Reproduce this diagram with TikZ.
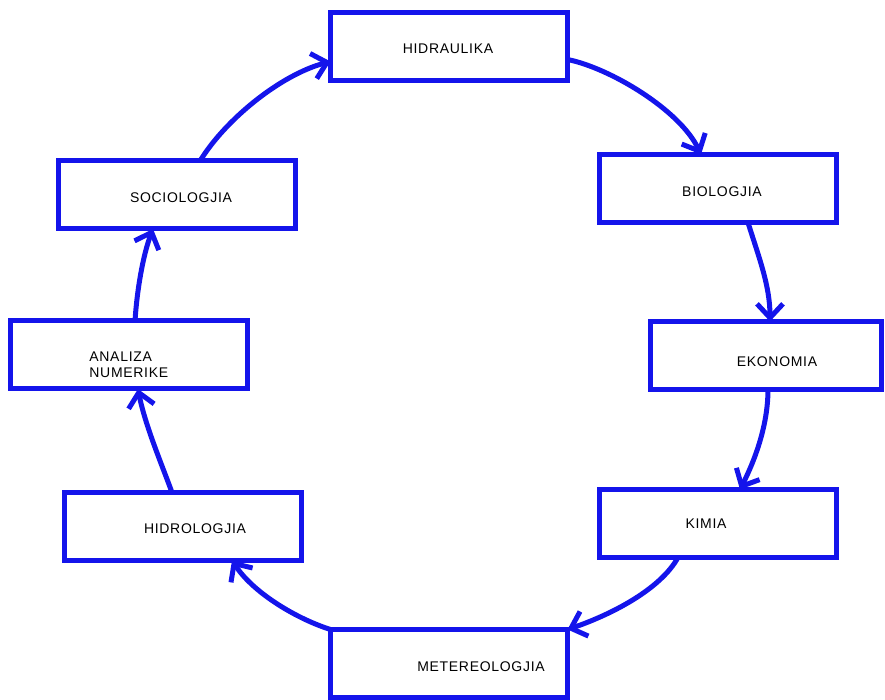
\documentclass[tikz,border=0pt]{standalone}
\usepackage{fontspec}
\newfontfamily\lblfont[LetterSpace=5]{Liberation Sans}
\usetikzlibrary{arrows.meta,calc}
\definecolor{cyclblue}{RGB}{20,20,235}
\tikzset{
  box/.style={draw=cyclblue, line width=2.5pt, fill=white, inner sep=0pt, outer sep=0pt,
    minimum width=118.5pt, minimum height=34pt},
  lbl/.style={inner sep=0pt, font=\lblfont\fontsize{7}{8}\selectfont, text=black},
  cyc/.style={draw=cyclblue, line width=2.5pt, -{Straight Barb[length=7pt,width=13pt]}}
}
\begin{document}
\begin{tikzpicture}[x=0.5pt,y=0.5pt]
\useasboundingbox (0,0) rectangle (885,700);
% boxes
\node[box] (H) at (449,653.5) {};
\node[box] (B) at (718,511.5) {};
\node[box, minimum width=115.5pt] (E) at (766,344.5) {};
\node[box] (K) at (718,176.5) {};
\node[box] (M) at (449,36.5) {};
\node[box] (Hd) at (183,173.5) {};
\node[box] (A) at (129,345) {};
\node[box] (S) at (177,505) {};
% labels
\node[lbl] (tH) at (448,651) {HIDRAULIKA};
\node[lbl] (tB) at (722,508) {BIOLOGJIA};
\node[lbl] (tE) at (777,338) {EKONOMIA};
\node[lbl] (tK) at (706,176) {KIMIA};
\node[lbl] (tM) at (481,33) {METEREOLOGJIA};
\node[lbl] (tHd) at (195,171) {HIDROLOGJIA};
\node[lbl] (tS) at (181,502) {SOCIOLOGJIA};
\node[lbl, anchor=west, align=left] (tA) at (89,335) {ANALIZA\\NUMERIKE};
% connectors
\draw[cyc] ($(H.east)+(0,-13)$) .. controls (610,632) and (680,590) .. ($(B.north)+(-17,0)$);
\draw[cyc] ($(B.south)+(30,0)$) .. controls (758,445) and (770,415) .. ($(E.north)+(4,0)$);
\draw[cyc] ($(E.south)+(2,0)$) .. controls (768,275) and (755,240) .. ($(K.north)+(22,0)$);
\draw[cyc] ($(K.south)+(-40,0)$) .. controls (660,110) and (610,85) .. (M.north east);
\draw[cyc] (M.north west) .. controls (300,80) and (255,105) .. ($(Hd.south)+(49,0)$);
\draw[cyc] ($(Hd.north)+(-11,0)$) .. controls (162,235) and (145,275) .. ($(A.south)+(9,0)$);
\draw[cyc] ($(A.north)+(6,0)$) .. controls (137,410) and (143,445) .. ($(S.south)+(-24,0)$);
\draw[cyc] ($(S.north)+(23,0)$) .. controls (225,580) and (280,625) .. ($(H.west)+(0,-15)$);
\end{tikzpicture}
\end{document}
